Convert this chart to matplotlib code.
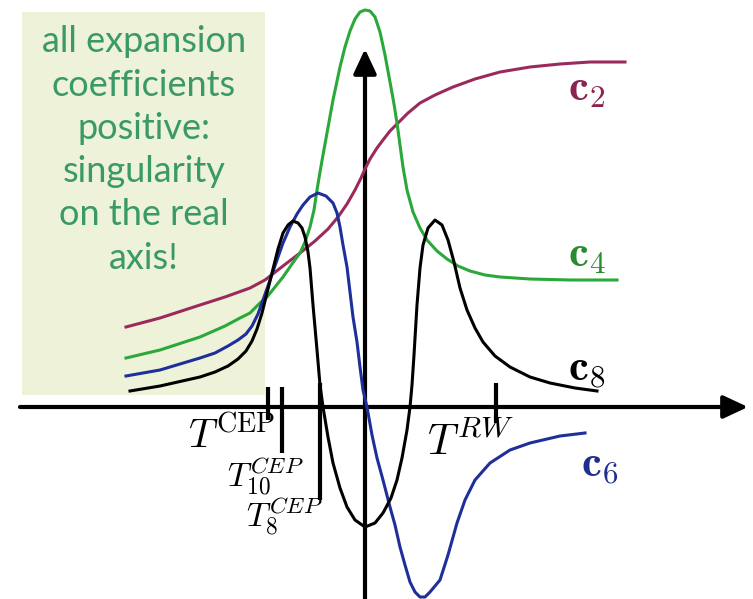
import matplotlib
matplotlib.use("Agg")
import matplotlib.pyplot as plt
from matplotlib.patches import Rectangle

plt.rcParams['mathtext.fontset'] = 'cm'

# temperature axis (origin at the crossing of the two axes) and the coefficient curves
T_c2 = [-239, -205, -165, -140, -115, -100, -82, -65, -50, -37,
        -27, -18, -10, -4, 0, 5, 12, 18, 25, 32,
        43, 55, 70, 88, 110, 135, 165, 195, 225, 260]
c2 = [80, 89, 102, 110, 119, 127, 141, 154, 166, 178,
      190, 203, 217, 229, 238, 248, 259, 267, 276, 283,
      294, 304, 312, 320, 328, 335, 340, 343, 345, 345]

T_c4 = [-239, -205, -165, -140, -125, -115, -105, -98, -90, -82,
        -73, -65, -60, -55, -51, -48, -45, -42, -38, -32,
        -25, -20, -15, -10, -5, 0, 5, 10, 15, 20,
        25, 29, 32, 35, 38, 42, 48, 55, 62, 72,
        82, 93, 105, 120, 135, 165, 205, 252]
c4 = [49, 57, 70, 81, 89, 94, 104, 110, 120, 130,
      143, 154, 165, 180, 197, 217, 235, 252, 274, 307,
      340, 360, 376, 388, 395, 397, 396, 390, 375, 352,
      325, 303, 284, 262, 240, 217, 195, 179, 167, 156,
      148, 141, 136, 132, 130, 128, 127, 127]

T_c6 = [-239, -205, -165, -150, -137, -127, -119, -113, -107, -102,
        -95, -88, -82, -75, -68, -62, -55, -47, -39, -32,
        -28, -25, -22, -18, -15, -12, -8, -5, -2, 2,
        7, 12, 18, 25, 30, 35, 40, 45, 50, 55,
        60, 65, 75, 83, 92, 100, 110, 125, 145, 165,
        195, 220]
c6 = [31, 37, 49, 54, 61, 67, 73, 81, 93, 107,
      127, 147, 164, 180, 193, 202, 210, 214, 211, 204,
      194, 180, 162, 140, 115, 90, 65, 40, 17, 0,
      -28, -51, -73, -100, -118, -140, -158, -175, -185, -190,
      -190, -185, -173, -148, -116, -93, -73, -56, -43, -36,
      -29, -26]

T_c8 = [-235, -205, -165, -150, -137, -127, -119, -113, -108, -103,
        -99, -95, -91, -87, -82, -77, -72, -67, -63, -60,
        -57, -55, -52, -48, -45, -42, -37, -32, -25, -18,
        -10, 0, 10, 18, 26, 32, 37, 42, 45, 47,
        49, 52, 55, 58, 63, 70, 77, 83, 89, 95,
        102, 110, 118, 130, 145, 165, 185, 210, 232]
c8 = [16, 21, 30, 35, 41, 48, 56, 66, 78, 94,
      110, 126, 142, 158, 174, 182, 186, 184, 179, 170,
      155, 139, 102, 57, 22, 0, -30, -56, -81, -100,
      -113, -120, -116, -106, -91, -73, -51, -23, 0, 22,
      52, 102, 139, 162, 179, 187, 182, 167, 145, 119,
      97, 79, 65, 51, 40, 30, 24, 19, 16]

# special temperatures marked on the axis
T_marks = [-97, -83, -45, 131]
mark_labels = [r'$T^{\mathrm{CEP}}$', r'$T_{10}^{CEP}$', r'$T_{8}^{CEP}$', r'$T^{RW}$']

box_text = "all expansion\ncoefficients\npositive:\nsingularity\non the real\naxis!"

fig = plt.figure(figsize=(7.53, 5.99), dpi=100)
ax = fig.add_axes([0, 0, 1, 1])
ax.set_xlim(-365, 388)
ax.set_ylim(-192, 407)
ax.axis('off')

# shaded region where all coefficients are positive
ax.add_patch(Rectangle((-343, 12), 243, 383, facecolor='#eef2d9', edgecolor='none', zorder=0))
ax.text(-221, 257, box_text, ha='center', va='center', fontsize=26, family='Lato',
        color='#3a9a66', linespacing=1.38, zorder=1)

# axes with arrow heads
arr = dict(arrowstyle='-|>,head_length=0.75,head_width=0.35', lw=3, color='black',
           mutation_scale=20, shrinkA=0, shrinkB=0)
ax.annotate('', xy=(383, 0), xytext=(-345, 0), arrowprops=arr, zorder=2)
ax.annotate('', xy=(0, 358), xytext=(0, -192), arrowprops=arr, zorder=2)

# tick marks at the special temperatures
tick_top = [20, 20, 24, 24]
tick_bot = [-13, -46, -93, -16]
for t, a, b in zip(T_marks, tick_top, tick_bot):
    ax.plot([t, t], [a, b], color='black', lw=3, solid_capstyle='butt', zorder=2)

lab_pos = [(-133, -31), (-100, -69), (-81, -109), (105, -36)]
lab_size = [29, 24, 24, 31]
for (x, y), s, fs in zip(lab_pos, mark_labels, lab_size):
    ax.text(x, y, s, ha='center', va='center', fontsize=fs, color='black')

ax.plot(T_c2, c2, color='#9b2a5c', lw=2.2, zorder=3)
ax.plot(T_c4, c4, color='#2aa83a', lw=2.2, zorder=3)
ax.plot(T_c6, c6, color='#1e2f9a', lw=2.2, zorder=3)
ax.plot(T_c8, c8, color='black', lw=2.2, zorder=3)

ax.text(222, 318, r'$\mathbf{c}_\mathbf{2}$', ha='center', va='center', fontsize=32, color='#8c2452')
ax.text(222, 152, r'$\mathbf{c}_\mathbf{4}$', ha='center', va='center', fontsize=32, color='#2a8a30')
ax.text(222, 38, r'$\mathbf{c}_\mathbf{8}$', ha='center', va='center', fontsize=32, color='black')
ax.text(235, -57, r'$\mathbf{c}_\mathbf{6}$', ha='center', va='center', fontsize=32, color='#1f2f8f')

fig.savefig('out.png', dpi=100)
